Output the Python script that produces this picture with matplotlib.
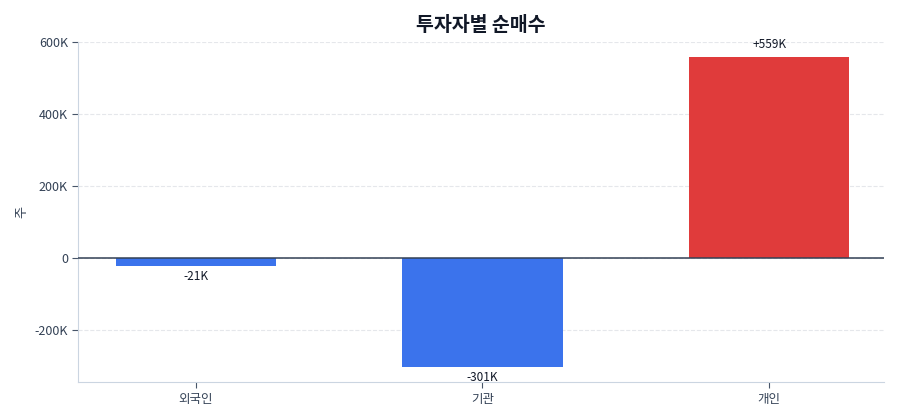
import matplotlib.pyplot as plt
from matplotlib.ticker import FuncFormatter

plt.rcParams['font.family'] = ['Noto Sans CJK KR', 'DejaVu Sans']
plt.rcParams['axes.unicode_minus'] = False

investors = ['외국인', '기관', '개인']
net_buy = [-21000, -301000, 559000]
labels = ['-21K', '-301K', '+559K']

colors = ['#e03b3b' if v > 0 else '#3b73ec' for v in net_buy]

fig, ax = plt.subplots(figsize=(9, 4.2), dpi=100)
fig.subplots_adjust(left=0.087, right=0.982, top=0.9, bottom=0.09)

x = range(len(investors))
bars = ax.bar(x, net_buy, width=0.56, color=colors, zorder=3)

for b, v, t in zip(bars, net_buy, labels):
    cx = b.get_x() + b.get_width() / 2
    if v >= 0:
        ax.annotate(t, (cx, v), xytext=(0, 4), textcoords='offset points',
                    ha='center', va='bottom', fontsize=8.5, color='#111827')
    else:
        ax.annotate(t, (cx, v), xytext=(0, -3), textcoords='offset points',
                    ha='center', va='top', fontsize=8.5, color='#111827')

ax.axhline(0, color='#334155', linewidth=1.1, zorder=4)

ax.set_xticks(list(x))
ax.set_xticklabels(investors)
ax.set_xlim(-0.41, 2.40)
ax.set_ylim(-344000, 600000)
ax.set_yticks([-200000, 0, 200000, 400000, 600000])
ax.yaxis.set_major_formatter(FuncFormatter(lambda v, p: '0' if v == 0 else f'{int(v / 1000)}K'))

ax.grid(axis='y', linestyle='--', color='#e5e7eb', linewidth=0.8, zorder=0)
ax.set_axisbelow(True)
for s in ['top', 'right']:
    ax.spines[s].set_visible(False)
for s in ['left', 'bottom']:
    ax.spines[s].set_color('#cbd5e1')
ax.tick_params(colors='#334155', labelsize=9)
ax.tick_params(axis='both', color='#475569', length=4)

ax.set_ylabel('주', fontsize=9.5, color='#334155')
ax.set_title('투자자별 순매수', fontsize=14, fontweight='bold', color='#111827', pad=8)

plt.savefig('out.png')
